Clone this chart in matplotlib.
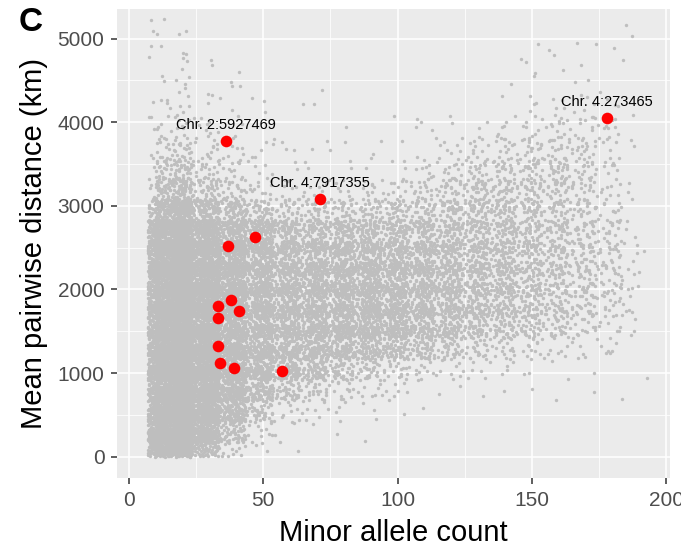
import numpy as np
import matplotlib
matplotlib.use("Agg")
import matplotlib.pyplot as plt

plt.rcParams["font.family"] = ["Liberation Sans", "DejaVu Sans"]

# -------------------- Data --------------------
# background cloud: approximate number of SNPs per cell
# columns = minor allele count bins, rows = 250 km bins from 0 up
mac_edges = [7, 10, 20, 30, 40, 50, 60, 70, 80, 90, 100, 110, 120, 130, 140,
             150, 160, 170, 180, 190, 193]
dist_step = 250
cloud_counts = [
    [60, 60, 60, 60, 60, 60, 60, 60, 60, 60, 60, 28, 8, 3, 3, 2, 1, 1, 1, 2, 2],
    [320, 320, 320, 320, 320, 320, 320, 320, 320, 320, 300, 200, 100, 55, 30, 14, 9, 5, 3, 3, 2],
    [160, 270, 280, 280, 280, 280, 280, 280, 280, 260, 230, 140, 55, 30, 15, 7, 4, 3, 3, 1, 0],
    [35, 110, 170, 170, 170, 170, 170, 170, 170, 160, 140, 90, 38, 18, 10, 5, 3, 2, 2, 0, 0],
    [6, 26, 75, 130, 130, 130, 130, 130, 130, 130, 115, 70, 20, 10, 5, 3, 2, 2, 1, 0, 0],
    [2, 5, 20, 65, 105, 105, 105, 105, 105, 105, 90, 50, 8, 4, 3, 1, 1, 0, 0, 0, 0],
    [0, 2, 9, 48, 95, 105, 105, 105, 105, 100, 82, 45, 8, 4, 3, 1, 1, 0, 0, 0, 0],
    [0, 2, 5, 22, 72, 100, 105, 105, 105, 100, 80, 45, 8, 4, 3, 1, 1, 1, 0, 0, 0],
    [0, 1, 4, 12, 50, 100, 105, 105, 105, 95, 80, 45, 9, 3, 2, 1, 0, 0, 0, 0, 0],
    [0, 1, 5, 8, 33, 95, 105, 105, 105, 90, 75, 46, 12, 5, 2, 1, 0, 0, 0, 0, 0],
    [0, 0, 2, 5, 20, 70, 90, 90, 90, 88, 70, 46, 18, 6, 2, 1, 0, 0, 0, 0, 0],
    [0, 0, 0, 3, 12, 50, 78, 78, 78, 78, 66, 48, 30, 14, 6, 3, 1, 0, 0, 0, 0],
    [0, 0, 0, 2, 10, 40, 68, 68, 68, 68, 58, 48, 36, 22, 9, 4, 1, 0, 0, 0, 0],
    [0, 0, 0, 2, 8, 28, 56, 60, 60, 60, 52, 48, 38, 27, 14, 5, 1, 0, 0, 0, 0],
    [0, 0, 0, 1, 4, 20, 47, 50, 50, 50, 45, 40, 35, 27, 20, 10, 2, 2, 1, 1, 0],
    [0, 0, 0, 1, 3, 15, 38, 40, 40, 40, 36, 32, 31, 27, 23, 14, 5, 1, 1, 2, 0],
    [0, 0, 0, 1, 2, 8, 23, 32, 32, 32, 31, 27, 23, 23, 23, 14, 6, 2, 2, 2, 0],
    [0, 0, 0, 1, 2, 6, 12, 20, 23, 23, 23, 20, 15, 12, 12, 11, 8, 2, 1, 0, 1],
    [0, 0, 0, 0, 1, 3, 6, 9, 9, 8, 7, 5, 3, 2, 2, 3, 2, 0, 0, 3, 1],
    [0, 0, 0, 0, 1, 0, 0, 0, 0, 1, 0, 0, 0, 0, 0, 0, 0, 0, 0, 0, 0],
]

# highlighted SNPs
hi_mac = [36, 71, 178, 47, 37, 38, 33, 41, 33, 33, 34, 39, 57]
hi_dist = [3780, 3080, 4050, 2630, 2520, 1880, 1800, 1740, 1655, 1320, 1125, 1065, 1030]
hi_labels = ["Chr. 2:5927469", "Chr. 4:7917355", "Chr. 4:273465"] + [""] * 10


# -------------------- Cloud points --------------------
def van_der_corput(idx, base):
    out = np.zeros(len(idx))
    f = 1.0 / base
    i = idx.copy()
    while np.any(i > 0):
        out += f * (i % base)
        i //= base
        f /= base
    return out


# spread each cell's count over the cell (slightly widened to soften the
# cell edges) with a fixed Halton sequence, no randomness
ext = 0.35
ncol = len(cloud_counts)
xs, ys = [], []
k = 1000
for ci, col in enumerate(cloud_counts):
    x0, x1 = mac_edges[ci], mac_edges[ci + 1]
    w = x1 - x0
    xlo = x0 - ext * w if ci >= 2 else x0
    xhi = x1 + ext * w if ci < ncol - 2 else x1
    for ri, n in enumerate(col):
        if n == 0:
            continue
        y0 = ri * dist_step
        ylo = y0 - ext * dist_step if ri > 0 else y0
        yhi = y0 + (1 + ext) * dist_step
        idx = np.arange(k, k + n)
        k += n + 37
        xs.append(xlo + van_der_corput(idx, 2) * (xhi - xlo))
        ys.append(ylo + van_der_corput(idx, 3) * (yhi - ylo))
xs = np.concatenate(xs)
ys = np.concatenate(ys)

# -------------------- Plot --------------------
fig = plt.figure(figsize=(6.81, 5.46), dpi=100)
ax = fig.add_axes([0.1718, 0.1245, 0.812, 0.859])
ax.set_facecolor("#EBEBEB")

ax.scatter(xs, ys, s=6, color="#BEBEBE", linewidths=0, zorder=2)
ax.scatter(hi_mac, hi_dist, s=70, color="#FF0000", linewidths=0, zorder=3)
for x, y, lab in zip(hi_mac, hi_dist, hi_labels):
    if lab:
        ax.text(x, y + 190, lab, ha="center", va="center", fontsize=10.5,
                color="black", zorder=4)

ax.set_xlim(-4.4, 201.3)
ax.set_ylim(-255, 5355)
ax.set_xticks([0, 50, 100, 150, 200])
ax.set_yticks([0, 1000, 2000, 3000, 4000, 5000])
ax.set_xticks([25, 75, 125, 175], minor=True)
ax.set_yticks([500, 1500, 2500, 3500, 4500], minor=True)
ax.grid(which="major", color="white", linewidth=1.1, zorder=0)
ax.grid(which="minor", color="white", linewidth=0.55, zorder=0)
ax.set_axisbelow(True)
for sp in ax.spines.values():
    sp.set_visible(False)

ax.tick_params(which="major", length=4, width=1.1, color="#333333",
               labelsize=15, labelcolor="#4D4D4D", pad=5)
ax.tick_params(which="minor", length=0)

ax.set_xlabel("Minor allele count", fontsize=21, labelpad=7)
ax.set_ylabel("Mean pairwise distance (km)", fontsize=21, labelpad=7)

fig.text(0.0448, 0.9588, "C", fontsize=24, fontweight="bold", ha="center", va="center")

fig.savefig("out.png", dpi=100)
